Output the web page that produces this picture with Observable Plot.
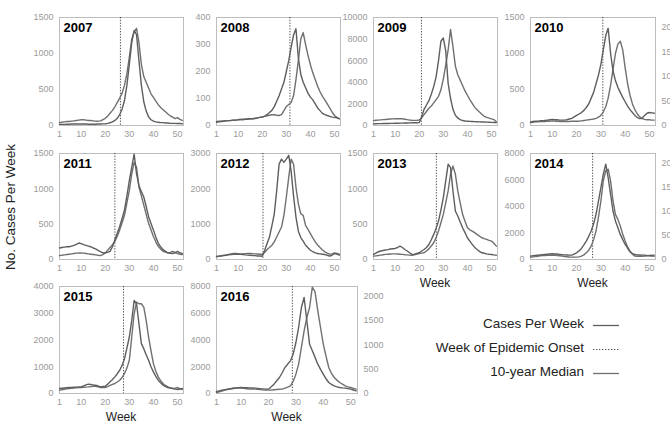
<!DOCTYPE html>
<html><head><meta charset="utf-8">
<script src="https://cdn.jsdelivr.net/npm/d3@7"></script>
<script src="https://cdn.jsdelivr.net/npm/@observablehq/plot@0.6"></script>
<style>
body{margin:0;background:#fff;}
#fig{position:relative;width:670px;height:423px;overflow:hidden;background:#fff;font-family:"Liberation Sans",Arial,Helvetica,sans-serif;}
#fig svg{position:absolute;}
.lbl{position:absolute;white-space:nowrap;color:#222;}
.leg{position:absolute;white-space:nowrap;color:#222;font-size:13.5px;text-align:right;width:300px;}
</style></head>
<body><div id="fig"></div>
<script>
const years = [2007, 2008, 2009, 2010, 2011, 2012, 2013, 2014, 2015, 2016];
const onsetWeek = [26.3, 31.5, 20.9, 30.8, 24.0, 20.3, 27.1, 26.6, 27.6, 28.7];
const yMax = [1500, 400, 10000, 1500, 1500, 3000, 1500, 8000, 4000, 8000];
const yStep = [500, 100, 2000, 500, 500, 1000, 500, 2000, 1000, 2000];
const xTicks = [1, 10, 20, 30, 40, 50];
const rightTicks = [0, 500, 1000, 1500, 2000];
const rightMax = 2200;
const legendLabels = ["Cases Per Week", "Week of Epidemic Onset", "10-year Median"];

const cases2007 = [15,15,15,18,18,20,20,20,20,22, 20,20,18,18,18,18,20,20,22,25, 30,38,50,70,100,150,230,350,560,850, 1150,1320,1260,900,560,330,200,120,80,60, 50,45,40,40,35,35,30,30,30,28,28,25];
const median2007 = [40,45,50,55,55,60,65,70,75,80, 80,75,70,70,65,60,60,65,80,100, 130,170,210,260,320,380,450,560,720,950, 1200,1300,1350,1150,850,680,600,520,440,390, 340,290,250,220,190,160,135,115,95,110,85,70];
const cases2008 = [12,14,15,16,17,18,18,20,20,21, 22,22,23,24,25,25,27,28,30,31, 35,40,48,56,70,90,110,135,160,200, 240,290,335,358,250,190,160,140,120,105, 95,80,65,55,45,40,37,34,31,30,28,25];
const median2008 = [15,16,16,17,18,18,19,20,20,22, 22,22,23,24,25,25,26,28,30,32, 34,36,38,40,40,38,37,40,55,70, 78,85,110,170,240,320,344,300,260,225, 195,170,145,125,108,95,80,65,50,37,30,25];
const cases2009 = [150,160,170,170,180,180,190,200,200,210, 210,220,220,230,230,240,250,250,260,280, 800,1500,1900,2300,2900,3600,4500,6000,7800,8100, 6900,3900,2500,1500,950,700,550,460,420,400, 380,370,360,350,340,330,320,310,300,290,280,280];
const median2009 = [450,480,500,520,540,560,580,600,610,620, 630,640,620,580,540,500,480,470,480,500, 700,1000,1300,1600,1800,2100,2400,2700,3300,4300, 5600,7000,8900,7300,5500,4700,4200,3700,3200,2800, 2400,2050,1700,1450,1250,1050,850,750,680,620,550,350];
const cases2010 = [50,55,60,60,65,65,70,75,80,85, 80,80,75,75,75,80,90,100,120,140, 160,180,210,250,300,380,460,580,700,850, 1050,1250,1350,1000,760,620,530,460,390,330, 270,220,180,140,110,95,100,140,170,180,175,170];
const median2010 = [40,45,50,50,55,55,55,60,60,65, 60,60,55,55,55,55,55,60,60,60, 60,65,70,75,80,85,90,100,115,140, 190,260,380,560,780,1000,1130,1170,1050,800, 580,420,300,220,160,120,95,85,80,80,75,75];
const cases2011 = [163,170,175,180,180,190,200,215,233,225, 210,200,190,180,163,150,130,110,95,93, 100,116,180,280,370,466,580,700,900,1118, 1304,1490,1211,1048,960,885,750,606,510,419, 320,233,180,140,115,93,88,84,95,116,95,84];
const median2011 = [56,60,65,70,75,80,85,90,93,93, 90,85,80,75,70,65,60,56,70,93, 130,170,210,256,330,419,520,629,800,978, 1211,1374,1304,1025,900,769,640,512,420,326, 250,186,150,116,105,93,100,116,100,84,75,70];
const cases2012 = [75,90,100,110,120,130,140,145,150,150, 145,140,130,125,122,115,110,100,97,94, 262,450,637,950,1294,1950,2700,2840,2750,2840, 2950,2500,1800,1200,800,620,520,403,330,262, 220,187,170,160,150,140,120,94,120,169,150,122];
const median2012 = [94,100,110,120,130,145,160,169,169,165, 160,160,165,169,169,165,160,155,150,150, 200,281,340,403,500,637,780,919,1250,1762, 2325,2840,2700,2044,1575,1294,1247,965,850,731, 610,497,410,337,270,215,180,150,160,187,170,150];
const cases2013 = [71,90,110,120,128,135,140,148,152,156, 170,189,170,142,120,95,71,75,85,95, 120,142,170,213,280,355,440,544,700,875, 1112,1349,1301,970,686,615,530,450,380,308, 260,213,175,142,115,95,88,80,75,71,65,61];
const median2013 = [47,52,57,62,68,72,75,78,80,80, 78,75,72,68,65,62,61,65,75,85, 90,95,120,150,190,237,310,402,520,639, 800,970,1207,1325,1207,970,800,639,540,450, 420,402,380,355,330,308,295,284,270,260,230,189];
const cases2014 = [252,280,300,320,340,360,380,400,420,429, 420,410,390,370,350,340,330,328,400,505, 650,833,1100,1388,1750,2145,2700,3407,4400,5426, 6435,7190,6183,4921,3659,2902,2400,1893,1500,1136, 850,580,450,378,350,340,330,328,300,280,260,252];
const median2014 = [177,200,220,250,270,290,300,310,320,328, 320,300,280,260,230,210,190,180,177,177, 200,250,350,505,700,1009,1500,2145,3200,4416, 5930,6688,6814,5930,4416,3407,3028,2524,1900,1388, 950,631,400,252,240,240,245,252,270,300,320,328];
const cases2015 = [186,195,205,215,224,230,235,240,245,248, 280,320,348,340,320,311,280,248,260,273, 350,435,520,621,740,870,1050,1304,1700,2112, 2733,3478,3354,2609,1863,1677,1450,1242,1000,807, 640,497,400,311,260,224,200,186,165,149,170,186];
const median2015 = [124,140,160,175,186,195,205,212,220,224, 230,240,248,260,270,273,250,224,224,224, 260,300,340,373,430,497,600,745,950,1242, 2112,2981,3416,3354,3354,3230,2733,2112,1600,1118, 830,621,480,373,300,248,215,186,200,224,180,149];
const cases2016 = [150,200,250,290,324,360,390,420,440,449, 440,430,420,410,399,380,360,345,330,324, 500,698,950,1196,1550,1944,2200,2442,2941,3813, 4935,6430,7178,5433,3688,3190,2700,2193,1800,1445, 1100,822,680,573,500,449,420,399,360,324,260,199];
const median2016 = [75,130,190,250,300,340,370,390,399,399, 380,360,340,330,324,310,290,270,255,249, 260,280,300,320,324,400,480,573,900,1445, 2193,3439,4685,5682,6430,7950,7600,6181,4935,3688, 2800,1944,1500,1196,1000,822,700,573,500,449,380,324];

const casesByYear = [cases2007,cases2008,cases2009,cases2010,cases2011,cases2012,cases2013,cases2014,cases2015,cases2016];
const medianByYear = [median2007,median2008,median2009,median2010,median2011,median2012,median2013,median2014,median2015,median2016];

// layout of panel frames (pixels)
const layout = [
  {l:59, t:17, w:124, h:108}, {l:216, t:17, w:124, h:108}, {l:373, t:17, w:124, h:108}, {l:530, t:17, w:125, h:108, right:true},
  {l:59, t:153, w:124, h:106}, {l:216, t:153, w:124, h:106}, {l:373, t:153, w:124, h:106}, {l:530, t:153, w:125, h:106, right:true},
  {l:59, t:286, w:124, h:107}, {l:216, t:286, w:141, h:107, right:true}
];

const fig = document.getElementById("fig");
const FONT = '"Liberation Sans",Arial,Helvetica,sans-serif';
const CASE_COLOR = "#5e5e5e";
const MED_COLOR = "#707070";
const TICK_COLOR = "#9a9a9a";
const mL = 34, mR = 4, mT = 4, mB = 18;
const fmt = d3.format("d");

years.forEach((yr, i) => {
  const L = layout[i];
  const data = casesByYear[i].map((c, k) => ({week: k + 1, cases: c, median: medianByYear[i][k]}));
  const yt = d3.range(0, yMax[i] + 1, yStep[i]);
  const svg = Plot.plot({
    width: L.w + mL + mR, height: L.h + mT + mB,
    marginLeft: mL, marginRight: mR, marginTop: mT, marginBottom: mB,
    style: {fontFamily: FONT, fontSize: "9px", background: "transparent", overflow: "visible"},
    x: {domain: [1, 52.5]},
    y: {domain: [0, yMax[i]]},
    marks: [
      Plot.frame({stroke: "#bdbdbd"}),
      Plot.axisX({ticks: xTicks, tickSize: 0, tickPadding: 5, fill: TICK_COLOR, label: null, tickFormat: fmt}),
      Plot.axisY({ticks: yt, tickSize: 0, tickPadding: 6, fill: TICK_COLOR, label: null, tickFormat: fmt}),
      Plot.ruleX([onsetWeek[i]], {stroke: "#4a4a4a", strokeDasharray: "1.3,1.5", strokeWidth: 1}),
      Plot.lineY(data, {x: "week", y: "median", stroke: MED_COLOR, strokeWidth: 1.4}),
      Plot.lineY(data, {x: "week", y: "cases", stroke: CASE_COLOR, strokeWidth: 1.4}),
      Plot.text([String(yr)], {frameAnchor: "top-left", dx: 4, dy: 5, fontWeight: "bold", fontSize: 13, fill: "#000"})
    ]
  });
  svg.style.left = (L.l - mL) + "px";
  svg.style.top = (L.t - mT) + "px";
  fig.appendChild(svg);

  if (L.right) {
    const mR2 = 34;
    const ax = Plot.plot({
      width: L.w + mL + mR2, height: L.h + mT + mB,
      marginLeft: mL, marginRight: mR2, marginTop: mT, marginBottom: mB,
      style: {fontFamily: FONT, fontSize: "9px", background: "transparent", overflow: "visible"},
      y: {domain: [0, rightMax]},
      marks: [
        Plot.axisY({anchor: "right", ticks: rightTicks, tickSize: 0, tickPadding: 6, fill: TICK_COLOR, label: null, tickFormat: fmt})
      ]
    });
    ax.style.left = (L.l - mL) + "px";
    ax.style.top = (L.t - mT) + "px";
    fig.appendChild(ax);
  }
});

// axis titles
function addLabel(text, x, y, size, rotate) {
  const d = document.createElement("div");
  d.className = "lbl";
  d.textContent = text;
  d.style.fontSize = size + "px";
  d.style.left = x + "px";
  d.style.top = y + "px";
  d.style.transform = "translate(-50%,-50%)" + (rotate ? " rotate(-90deg)" : "");
  fig.appendChild(d);
}
addLabel("No. Cases Per Week", 10, 207, 13.5, true);
[6, 7, 8, 9].forEach(i => {
  const L = layout[i];
  addLabel("Week", L.l + L.w / 2, L.t + L.h + 24, 12, false);
});

// legend
const legTop = [325, 349, 373];
const legStyles = [{dash: null, color: CASE_COLOR}, {dash: "1.3,1.7", color: "#4a4a4a"}, {dash: null, color: MED_COLOR}];
legendLabels.forEach((t, k) => {
  const d = document.createElement("div");
  d.className = "leg";
  d.textContent = t;
  d.style.left = (584 - 300) + "px";
  d.style.top = (legTop[k] - 9) + "px";
  fig.appendChild(d);
});
const legSvg = d3.create("svg").attr("width", 40).attr("height", 70)
  .style("left", "590px").style("top", (legTop[0] - 10) + "px");
legendLabels.forEach((t, k) => {
  legSvg.append("line")
    .attr("x1", 3).attr("x2", 29)
    .attr("y1", legTop[k] - legTop[0] + 10.5).attr("y2", legTop[k] - legTop[0] + 10.5)
    .attr("stroke", legStyles[k].color).attr("stroke-width", legStyles[k].dash ? 1.2 : 1.3)
    .attr("stroke-dasharray", legStyles[k].dash);
});
fig.appendChild(legSvg.node());
</script>
</body></html>
